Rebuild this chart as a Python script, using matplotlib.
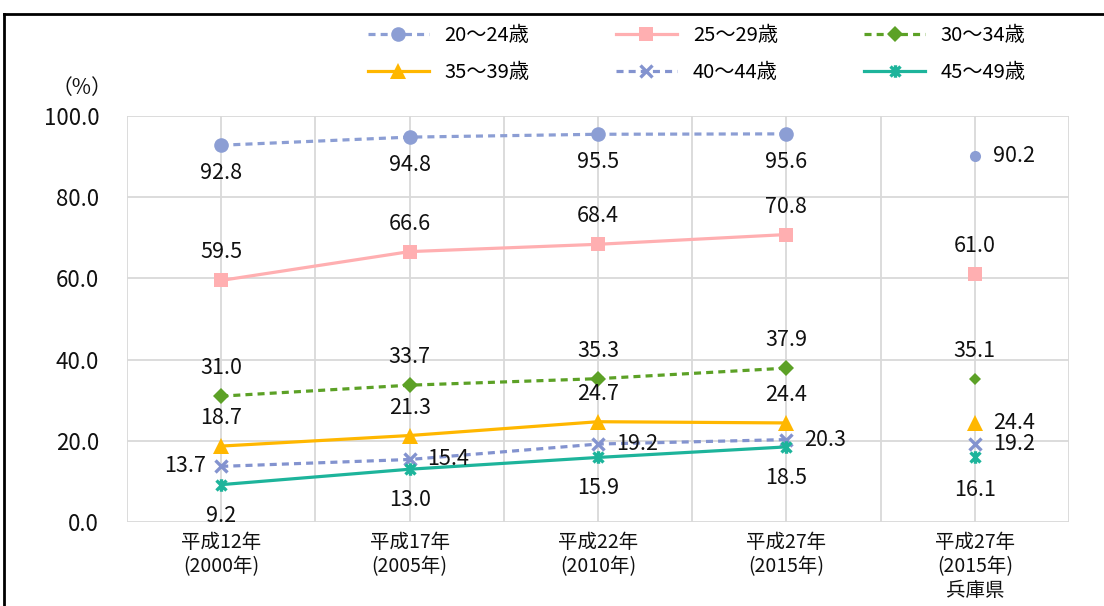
import matplotlib
matplotlib.use("Agg")
import matplotlib.pyplot as plt
from matplotlib.path import Path
from matplotlib.lines import Line2D

plt.rcParams['font.family'] = ['Noto Sans CJK JP', 'DejaVu Sans']

# Categories (national census years + Hyogo prefecture 2015)
categories = ["平成12年\n(2000年)", "平成17年\n(2005年)", "平成22年\n(2010年)",
              "平成27年\n(2015年)", "平成27年\n(2015年)\n兵庫県"]
series_names = ["20～24歳", "25～29歳", "30～34歳", "35～39歳", "40～44歳", "45～49歳"]

# National trend values (%)
age_20_24 = [92.8, 94.8, 95.5, 95.6]
age_25_29 = [59.5, 66.6, 68.4, 70.8]
age_30_34 = [31.0, 33.7, 35.3, 37.9]
age_35_39 = [18.7, 21.3, 24.7, 24.4]
age_40_44 = [13.7, 15.4, 19.2, 20.3]
age_45_49 = [9.2, 13.0, 15.9, 18.5]

# Hyogo prefecture 2015 values (%)
hyogo_2015 = [90.2, 61.0, 35.1, 24.4, 19.2, 16.1]

y_ticks = [0, 20, 40, 60, 80, 100]

# asterisk-like marker: an X with a vertical bar
star_path = Path([(-1, -1), (1, 1), (-1, 1), (1, -1), (0, -1.25), (0, 1.25)],
                 [Path.MOVETO, Path.LINETO, Path.MOVETO, Path.LINETO, Path.MOVETO, Path.LINETO])

styles = [
    dict(color="#8C9ED4", ls=(0, (2.2, 1.6)), marker="o", ms=10.5, hms=8),
    dict(color="#FFAFB1", ls="-", marker="s", ms=10, hms=10.5),
    dict(color="#5CA126", ls=(0, (2.2, 1.6)), marker="D", ms=8.5, hms=6.5),
    dict(color="#FFB700", ls="-", marker="^", ms=11, hms=11.5),
    dict(color="#8393CF", ls=(0, (2.2, 1.6)), marker="x", ms=9, hms=9),
    dict(color="#1DB49B", ls="-", marker=star_path, ms=9, hms=9),
]

series_values = [age_20_24, age_25_29, age_30_34, age_35_39, age_40_44, age_45_49]

# label placement per series: (dx, dy, ha, va) in pixels
below = (0, -28, "center", "center")
above = (0, 28, "center", "center")
left = (-15, 0, "right", "center")
right = (18, 0, "left", "center")
trend_pos = [
    [below] * 4,
    [above] * 4,
    [above] * 4,
    [above] * 4,
    [left, right, right, right],
    [(0, -31, "center", "center")] * 4,
]
hyogo_pos = [right, above, above, right, right, (0, -33, "center", "center")]

LABEL_FS = 15.5

fig = plt.figure(figsize=(11.04, 6.06), dpi=100)
ax = fig.add_axes([127 / 1104, 1 - 522 / 606, (1069 - 127) / 1104, (522 - 116) / 606])

x_trend = list(range(4))
handles = []
for name, vals, st, pos, hv, hp in zip(series_names, series_values, styles,
                                       trend_pos, hyogo_pos, hyogo_2015):
    ls = st["ls"]
    stroked = st["marker"] == "x" or st["marker"] is star_path
    line, = ax.plot(x_trend, vals, color=st["color"], lw=2.3, ls=ls,
                    marker=st["marker"], ms=st["ms"], mew=2.4 if stroked else 0,
                    mfc=st["color"], mec=st["color"], label=name, zorder=3)
    if isinstance(ls, tuple):
        line.set_dash_capstyle("butt")
    handles.append(line)
    ax.plot([4], [hp], ls="none", marker=st["marker"], ms=st["hms"],
            mew=2.4 if stroked else 0,
            mfc=st["color"], mec=st["color"], zorder=3)
    for xi, v, (dx, dy, ha, va) in zip(x_trend, vals, pos):
        ax.annotate(f"{v:.1f}", (xi, v), xytext=(dx, dy), textcoords="offset pixels",
                    ha=ha, va=va, fontsize=LABEL_FS, color="#111111", zorder=4)
    dx, dy, ha, va = hv
    ax.annotate(f"{hp:.1f}", (4, hp), xytext=(dx, dy), textcoords="offset pixels",
                ha=ha, va=va, fontsize=LABEL_FS, color="#111111", zorder=4)

ax.set_xlim(-0.5, 4.5)
ax.set_ylim(0, 100)
ax.set_yticks(y_ticks)
ax.set_yticklabels([f"{t:.1f}" for t in y_ticks], fontsize=16)
ax.set_xticks(range(5))
ax.set_xticklabels(categories, fontsize=14, linespacing=1.2)
ax.tick_params(axis="both", length=0, colors="#111111")
ax.tick_params(axis="y", pad=20)
ax.tick_params(axis="x", pad=7)

# grid: horizontal at ticks, vertical at every half category
for t in y_ticks:
    ax.axhline(t, color="#D9D9D9", lw=1.3, zorder=1)
for k in range(11):
    ax.axvline(-0.5 + 0.5 * k, color="#D9D9D9", lw=1.3, zorder=1)
for sp in ax.spines.values():
    sp.set_visible(False)

fig.text(82 / 1104, 1 - 88 / 606, "（%）", fontsize=15, ha="center", va="center", color="#111111")

order = [0, 3, 1, 4, 2, 5]
leg = fig.legend([handles[i] for i in order], [series_names[i] for i in order],
                 ncol=3, loc="center", bbox_to_anchor=(697 / 1104, 1 - 54 / 606),
                 frameon=False, fontsize=14.5, handlelength=3.0, handletextpad=0.8,
                 columnspacing=4.3, labelspacing=0.75)

# outer frame
fig.add_artist(Line2D([4 / 1104, 4 / 1104], [0, 1 - 14 / 606], color="black", lw=2,
                      transform=fig.transFigure))
fig.add_artist(Line2D([4 / 1104, 1], [1 - 14 / 606, 1 - 14 / 606], color="black", lw=2,
                      transform=fig.transFigure))

fig.savefig("out.png", dpi=100, facecolor="white")
